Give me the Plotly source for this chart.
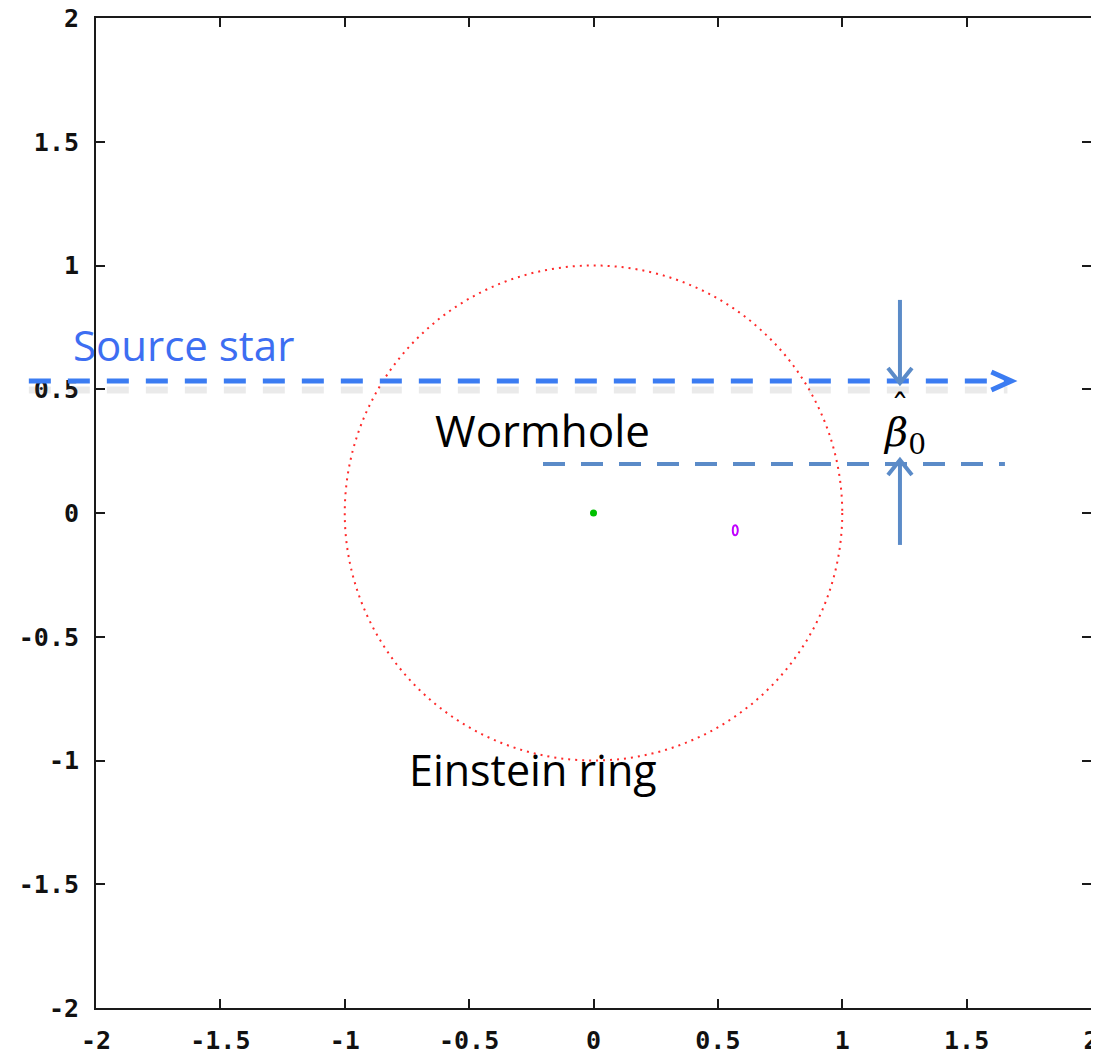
import plotly.graph_objects as go

# ---- data ----
x_range = [-2, 2]
y_range = [-2, 2]
tick_vals = [-2, -1.5, -1, -0.5, 0, 0.5, 1, 1.5, 2]
tick_text = ["-2", "-1.5", "-1", "-0.5", "0", "0.5", "1", "1.5", "2"]

einstein_radius = 1.0
lens_x = [0.0]
lens_y = [0.0]
image_x = [0.57]
image_y = [-0.07]

source_y = 0.533
source_x = [-2.27, 1.68]
beta_y = 0.198
beta_x = [-0.203, 1.654]
arrow_x = 1.232
top_arrow_y = [0.861, 0.525]
bottom_arrow_y = [-0.129, 0.214]

# ---- layout geometry (page body has an 8px margin) ----
W, H = 1091, 1044
ML, MR, MT, MB = 88, 8, 10, 44
PW, PH = W - ML - MR, H - MT - MB


def fx(x):
    return (x - x_range[0]) / (x_range[1] - x_range[0])


def fy(y):
    return (y - y_range[0]) / (y_range[1] - y_range[0])


def dpx(p):
    return p / PW


def dpy(p):
    return p / PH


fig = go.Figure()

fig.add_trace(go.Scatter(x=lens_x, y=lens_y, mode="markers",
                         marker=dict(color="#00c000", size=7, symbol="circle"),
                         showlegend=False, hoverinfo="skip"))

shapes = []
# Einstein ring (dotted)
shapes.append(dict(type="circle", xref="x", yref="y",
                   x0=-einstein_radius, x1=einstein_radius,
                   y0=-einstein_radius, y1=einstein_radius,
                   line=dict(color="#ff2a2a", width=2, dash="2px,5px")))

D = "x domain"
E = "y domain"

# magenta image: small vertical ellipse centred on the image position
shapes.append(dict(type="circle", xref=D, yref=E,
                   x0=fx(image_x[0]) - dpx(2.5), x1=fx(image_x[0]) + dpx(2.5),
                   y0=fy(image_y[0]) - dpy(5), y1=fy(image_y[0]) + dpy(5),
                   line=dict(color="#c000ff", width=2)))

src_col = "#3b7cf2"
beta_col = "#5b8bc8"

# source star shadow
shapes.append(dict(type="line", xref=D, yref=E,
                   x0=fx(source_x[0]), x1=fx(source_x[1]) - dpx(4),
                   y0=fy(source_y) - dpy(9), y1=fy(source_y) - dpy(9),
                   line=dict(color="rgba(90,90,90,0.13)", width=7, dash="22px,17px")))
# source star dashed line
shapes.append(dict(type="line", xref=D, yref=E,
                   x0=fx(source_x[0]), x1=fx(source_x[1]) - dpx(4),
                   y0=fy(source_y), y1=fy(source_y),
                   line=dict(color=src_col, width=5, dash="22px,17px")))
# arrow head
tx, ty = fx(source_x[1]), fy(source_y)
shapes.append(dict(type="path", xref=D, yref=E,
                   path=f"M{tx - dpx(20)},{ty + dpy(9)} L{tx},{ty} L{tx - dpx(20)},{ty - dpy(9)}",
                   line=dict(color=src_col, width=5)))

# beta lower dashed line
shapes.append(dict(type="line", xref=D, yref=E,
                   x0=fx(beta_x[0]), x1=fx(beta_x[1]),
                   y0=fy(beta_y), y1=fy(beta_y),
                   line=dict(color=beta_col, width=4, dash="22px,16px")))

# vertical arrows
for ys in (top_arrow_y, bottom_arrow_y):
    x0 = fx(arrow_x)
    shapes.append(dict(type="line", xref=D, yref=E,
                       x0=x0, x1=x0, y0=fy(ys[0]), y1=fy(ys[1]),
                       line=dict(color=beta_col, width=4)))
    sgn = 1 if ys[1] < ys[0] else -1
    tipy = fy(ys[1])
    shapes.append(dict(type="path", xref=D, yref=E,
                       path=f"M{x0 - dpx(12)},{tipy + sgn * dpy(15)} L{x0},{tipy} L{x0 + dpx(12)},{tipy + sgn * dpy(15)}",
                       line=dict(color=beta_col, width=4)))

annotations = [
    dict(x=-1.65, y=0.679, xref="x", yref="y", text="Source star", showarrow=False,
         font=dict(family="Open Sans", size=42, color="#3d6ef2")),
    dict(x=-0.207, y=0.335, xref="x", yref="y", text="Wormhole", showarrow=False,
         font=dict(family="Open Sans", size=44, color="black")),
    dict(x=-0.243, y=-1.038, xref="x", yref="y", text="Einstein ring", showarrow=False,
         font=dict(family="Open Sans", size=43, color="black")),
    dict(x=1.252, y=0.315, xref="x", yref="y", text="<i>β</i><sub>0</sub>", showarrow=False,
         font=dict(family="DejaVu Serif", size=40, color="black")),
    dict(x=1.234, y=0.425, xref="x", yref="y", text="ˆ", showarrow=False,
         font=dict(family="DejaVu Serif", size=36, color="black")),
]

axis_common = dict(
    showgrid=False, zeroline=False, showline=True, automargin=False,
    linecolor="#1a1a1a", linewidth=2, mirror="allticks",
    ticks="inside", ticklen=9, tickwidth=1.5, tickcolor="#1a1a1a",
    tickvals=tick_vals, ticktext=tick_text, ticklabeloverflow="allow",
    tickfont=dict(family="DejaVu Sans Mono", size=25, color="#111", weight="bold"),
)

fig.update_layout(
    width=W, height=H,
    margin=dict(l=ML, r=MR, t=MT, b=MB),
    paper_bgcolor="white", plot_bgcolor="white",
    xaxis=dict(axis_common, range=x_range, ticklabelstandoff=9),
    yaxis=dict(axis_common, range=y_range, ticklabelstandoff=10),
    shapes=shapes, annotations=annotations,
)

fig.write_html("out.html")
